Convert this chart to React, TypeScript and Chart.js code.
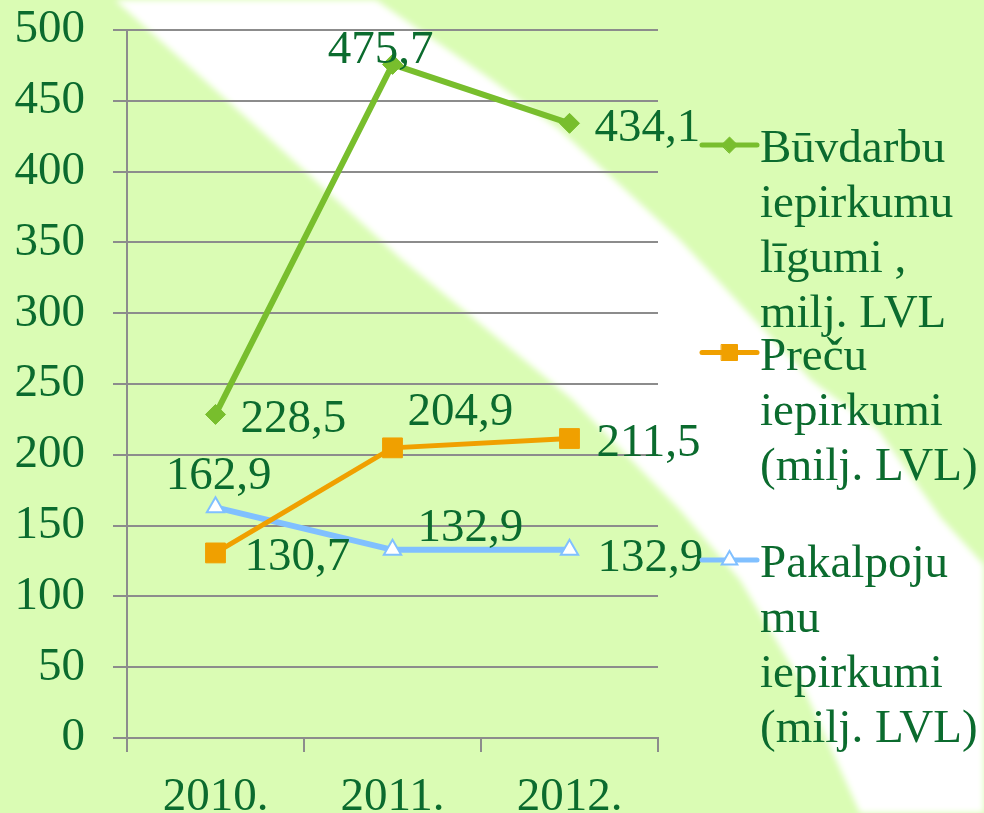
import React, { useEffect, useRef } from 'react';
import { Chart, registerables } from 'chart.js';

Chart.register(...registerables);

const categories = ['2010.', '2011.', '2012.'];
const buvdarbi = [228.5, 475.7, 434.1];
const preces = [130.7, 204.9, 211.5];
const pakalpojumi = [162.9, 132.9, 132.9];
const seriesNames = [
  ['Būvdarbu', 'iepirkumu', 'līgumi ,', 'milj. LVL'],
  ['Preču', 'iepirkumi', '(milj. LVL)'],
  ['Pakalpoju', 'mu', 'iepirkumi', '(milj. LVL)'],
];
const yMin = 0;
const yMax = 500;
const yStep = 50;

const TEXT = '#0B6B2E';
const GRID = '#8C8C8C';
const BG_GREEN = '#DAFCB4';
const FONT = '"Liberation Serif", "Times New Roman", serif';
const FS = 47;

const GREEN = '#78BE2D';
const ORANGE = '#F0A000';
const BLUE = '#80C0FF';

// label placement style: dx, dy (text center relative to point), align
const labelPlacement = [
  [
    { dx: 25, dy: 2, align: 'left' },
    { dx: -12, dy: -17, align: 'center' },
    { dx: 25, dy: 2, align: 'left' },
  ],
  [
    { dx: 29, dy: 1, align: 'left' },
    { dx: 15, dy: -39, align: 'left' },
    { dx: 27, dy: 2, align: 'left' },
  ],
  [
    { dx: 3, dy: -34, align: 'center' },
    { dx: 25, dy: -25, align: 'left' },
    { dx: 28, dy: 5, align: 'left' },
  ],
];

const bgPlugin = {
  id: 'bgBand',
  beforeDraw(chart: any) {
    const ctx = chart.ctx;
    const w = chart.width;
    const h = chart.height;
    ctx.save();
    ctx.fillStyle = BG_GREEN;
    ctx.fillRect(0, 0, w, h);
    ctx.fillStyle = '#FFFFFF';
    ctx.beginPath();
    const lower = [
      [115, 0], [260, 130], [400, 258], [573, 400], [680, 510], [740, 580], [800, 680], [860, 813],
    ];
    const upper = [
      [984, 813], [984, 565], [941, 518], [878, 430], [811, 380], [680, 240], [560, 130], [489, 78], [376, 0],
    ];
    ctx.moveTo(lower[0][0], lower[0][1]);
    for (let i = 1; i < lower.length; i++) ctx.lineTo(lower[i][0], lower[i][1]);
    for (let i = 0; i < upper.length; i++) ctx.lineTo(upper[i][0], upper[i][1]);
    ctx.closePath();
    ctx.filter = 'blur(3px)';
    ctx.fill();
    ctx.restore();
  },
};

const fmt = (v: number) => v.toFixed(1).replace('.', ',');

const labelsPlugin = {
  id: 'valueLabels',
  afterDatasetsDraw(chart: any) {
    const ctx = chart.ctx;
    ctx.save();
    ctx.font = `${FS}px ${FONT}`;
    ctx.fillStyle = TEXT;
    ctx.textBaseline = 'alphabetic';
    chart.data.datasets.forEach((ds: any, di: number) => {
      const meta = chart.getDatasetMeta(di);
      meta.data.forEach((pt: any, i: number) => {
        const p = labelPlacement[di][i];
        ctx.textAlign = p.align;
        ctx.fillText(fmt(ds.data[i]), pt.x + p.dx, pt.y + p.dy + FS * 0.338);
      });
    });
    ctx.restore();
  },
};

const legendPlugin = {
  id: 'customLegend',
  afterDraw(chart: any) {
    const ctx = chart.ctx;
    const x0 = 702;
    const x1 = 757;
    const textX = 760;
    const top = 145;
    const spacing = 207.5;
    const lineH = 55;
    ctx.save();
    chart.data.datasets.forEach((ds: any, di: number) => {
      const y = top + di * spacing;
      ctx.strokeStyle = ds.borderColor;
      ctx.lineWidth = 5;
      ctx.lineCap = 'round';
      ctx.beginPath();
      ctx.moveTo(x0, y);
      ctx.lineTo(x1, y);
      ctx.stroke();
      const style = ds.pointStyle;
      const cx = (x0 + x1) / 2;
      ctx.fillStyle = ds.pointBackgroundColor;
      ctx.strokeStyle = ds.pointBorderColor;
      ctx.lineWidth = ds.pointBorderWidth;
      ctx.beginPath();
      if (style === 'rectRot') {
        const r = 8;
        ctx.moveTo(cx - r, y); ctx.lineTo(cx, y - r); ctx.lineTo(cx + r, y); ctx.lineTo(cx, y + r);
        ctx.closePath();
      } else if (style === 'rect') {
        const s = 8;
        ctx.rect(cx - s, y - s, 2 * s, 2 * s);
      } else {
        const r = 9;
        ctx.moveTo(cx, y - r);
        ctx.lineTo(cx + r * Math.sin((2 * Math.PI) / 3), y + r / 2);
        ctx.lineTo(cx - r * Math.sin((2 * Math.PI) / 3), y + r / 2);
        ctx.closePath();
      }
      ctx.fill();
      ctx.stroke();
      ctx.font = `${FS}px ${FONT}`;
      ctx.fillStyle = TEXT;
      ctx.textAlign = 'left';
      ctx.textBaseline = 'alphabetic';
      const lines: string[] = ds.label;
      lines.forEach((ln, li) => {
        ctx.fillText(ln, textX, y + 17 + li * lineH);
      });
    });
    ctx.restore();
  },
};

export default function App() {
  const ref = useRef<HTMLCanvasElement | null>(null);
  useEffect(() => {
    document.body.style.margin = '0';
    const canvas = ref.current!;
    const chart = new Chart(canvas, {
      type: 'line',
      data: {
        labels: categories,
        datasets: [
          {
            label: seriesNames[0] as any,
            data: buvdarbi,
            borderColor: GREEN,
            backgroundColor: GREEN,
            borderWidth: 6,
            pointStyle: 'rectRot',
            pointRadius: 10,
            pointBackgroundColor: GREEN,
            pointBorderColor: GREEN,
            pointBorderWidth: 1,
            tension: 0,
          },
          {
            label: seriesNames[1] as any,
            data: preces,
            borderColor: ORANGE,
            backgroundColor: ORANGE,
            borderWidth: 5,
            pointStyle: 'rect',
            pointRadius: 14,
            pointBackgroundColor: ORANGE,
            pointBorderColor: ORANGE,
            pointBorderWidth: 1,
            tension: 0,
          },
          {
            label: seriesNames[2] as any,
            data: pakalpojumi,
            borderColor: BLUE,
            backgroundColor: BLUE,
            borderWidth: 6,
            pointStyle: 'triangle',
            pointRadius: 10,
            pointBackgroundColor: '#FFFFFF',
            pointBorderColor: BLUE,
            pointBorderWidth: 2,
            tension: 0,
          },
        ],
      },
      options: {
        responsive: false,
        animation: false,
        devicePixelRatio: 1,
        layout: { padding: { top: 30, right: 326, left: 0, bottom: 0 } },
        plugins: {
          legend: { display: false },
          tooltip: { enabled: false },
        },
        scales: {
          x: {
            type: 'category',
            offset: true,
            afterFit: (s: any) => { s.height = 75; s.paddingLeft = 0; s.paddingRight = 0; },
            grid: {
              display: true,
              drawOnChartArea: false,
              drawTicks: true,
              tickLength: 14,
              color: GRID,
              lineWidth: 2,
              offset: true,
            },
            border: { display: true, color: GRID, width: 2 },
            ticks: {
              color: TEXT,
              font: { family: FONT, size: FS },
              padding: 17,
              maxRotation: 0,
              autoSkip: false,
            },
          },
          y: {
            min: yMin,
            max: yMax,
            afterFit: (s: any) => { s.width = 127; s.paddingTop = 0; s.paddingBottom = 0; },
            grid: {
              color: GRID,
              lineWidth: 2,
              drawTicks: true,
              tickLength: 14,
            },
            border: { display: true, color: GRID, width: 2 },
            ticks: {
              stepSize: yStep,
              color: TEXT,
              font: { family: FONT, size: FS },
              padding: 28,
            },
          },
        },
      },
      plugins: [bgPlugin, labelsPlugin, legendPlugin],
    } as any);
    return () => chart.destroy();
  }, []);
  return (
    <div style={{ position: 'absolute', left: 0, top: 0, width: 984, height: 813 }}>
      <canvas ref={ref} width={984} height={813} style={{ display: 'block' }} />
    </div>
  );
}
